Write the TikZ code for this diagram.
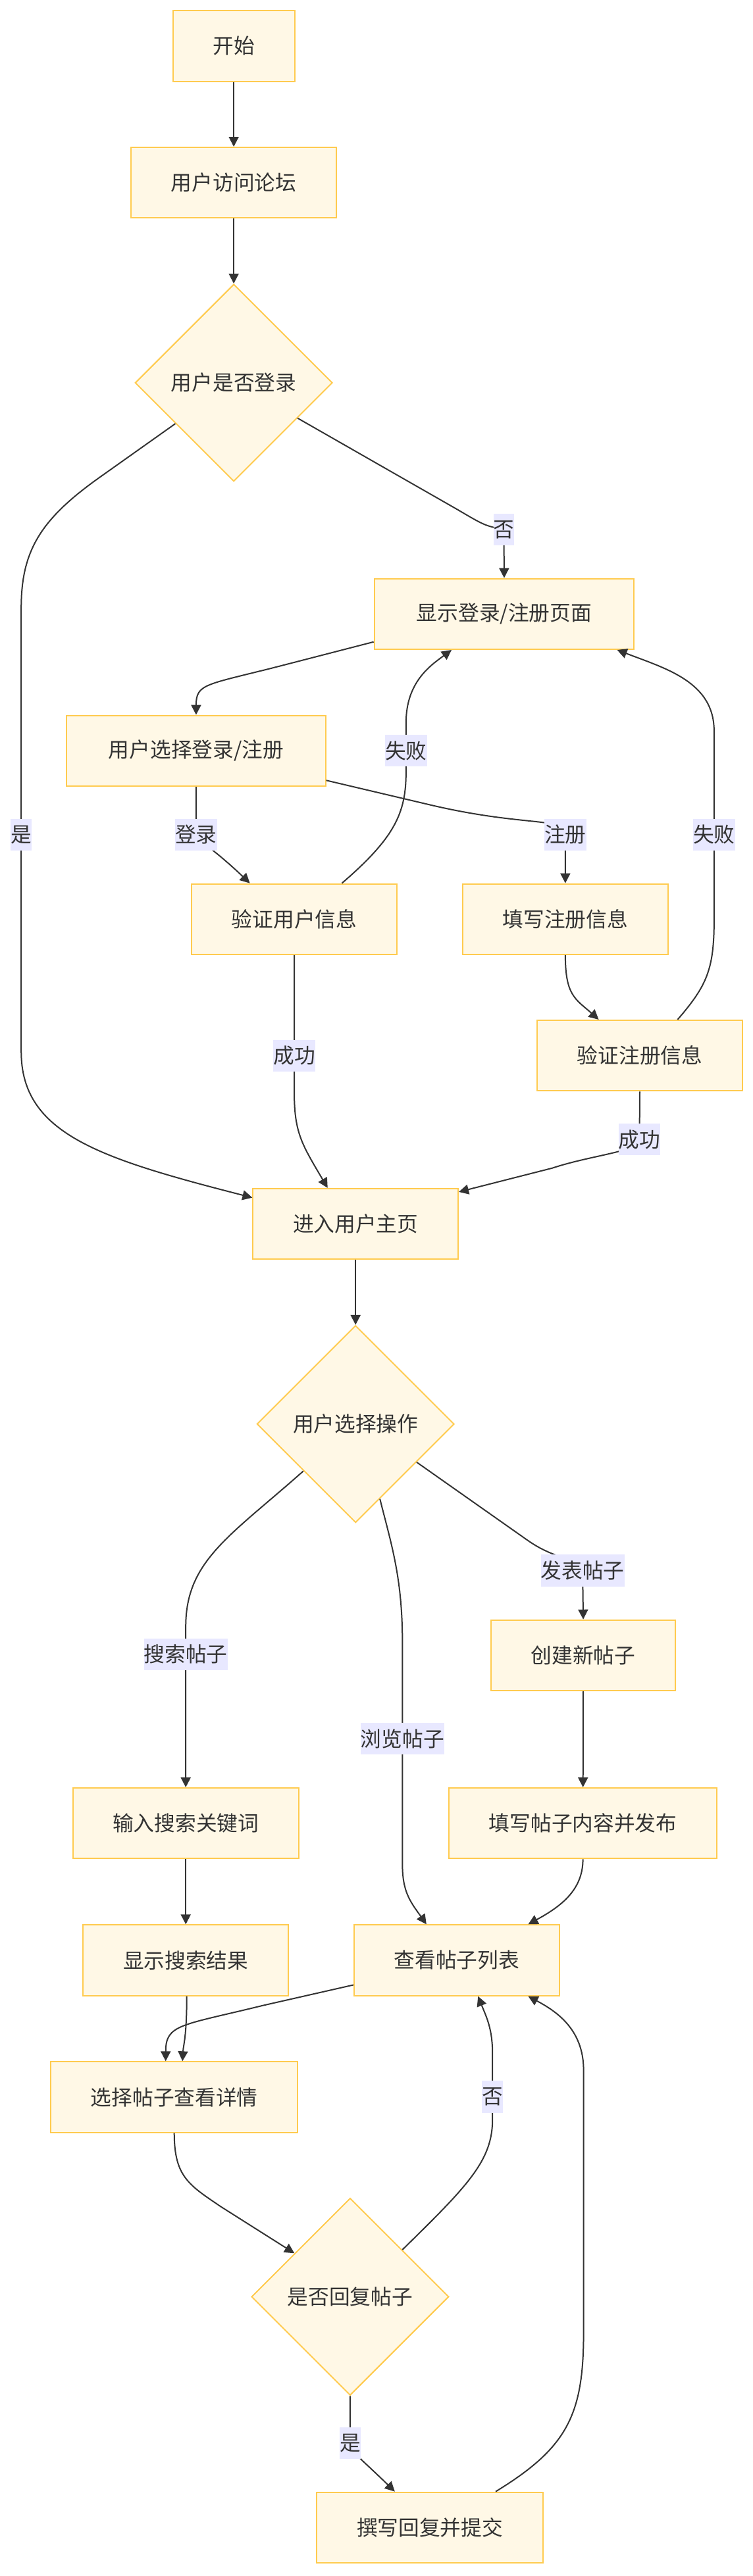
\documentclass[tikz,border=0pt]{standalone}
\usepackage{fontspec}
\setmainfont{Noto Sans CJK SC}
\usetikzlibrary{positioning, arrows.meta, calc, shapes.geometric}
\definecolor{boxfill}{HTML}{FFF8E6}
\definecolor{boxline}{HTML}{FFCB4F}
\definecolor{lblfill}{HTML}{E8E8FF}
\definecolor{ink}{HTML}{333333}

\begin{document}
\begin{tikzpicture}[x=1pt, y=-1pt,
	proc/.style={rectangle, draw=boxline, fill=boxfill, line width=0.8pt,
		minimum height=43pt, inner xsep=24.3pt, text=ink,
		font=\fontsize{12.7}{15}\selectfont},
	decision/.style={shape=diamond, draw=boxline, fill=boxfill, line width=0.8pt,
		minimum width=120pt, minimum height=120pt, inner sep=0pt, text=ink,
		font=\fontsize{12.7}{15}\selectfont},
	flow/.style={draw=ink, line width=0.8pt, -{Triangle[length=6pt,width=6pt]}},
	lbl/.style={fill=lblfill, inner sep=0pt, minimum height=19.3pt, text=ink,
		font=\fontsize{12.7}{15}\selectfont}]
		
		\fill[white] (0,0) rectangle (458,1568);
		\useasboundingbox (0,0) rectangle (458,1568);
		
		% Login part
		\node[proc] (start) at (142.2,28) {开始};
		\node[proc] (visit) at ($(start) + (0,83.2)$) {用户访问论坛};
		\node[decision] (login) at ($(start) + (0,205)$) {用户是否登录};
		\node[proc, minimum width=158pt] (show) at ($(start) + (164.5,345.7)$) {显示登录/注册页面};
		\node[proc, minimum width=157.5pt] (choose) at ($(start) + (-22.9,429)$) {用户选择登录/注册};
		\node[proc] (vuser) at ($(start) + (36.8,531.5)$) {验证用户信息};
		\node[proc] (fillreg) at ($(start) + (201.7,531.5)$) {填写注册信息};
		\node[proc] (vreg) at ($(start) + (247,614.5)$) {验证注册信息};
		
		% Forum part
		\node[proc] (home) at ($(start) + (74.1,717)$) {进入用户主页};
		\node[decision] (action) at ($(start) + (74.1,838.8)$) {用户选择操作};
		\node[proc] (create) at ($(start) + (212.6,979.6)$) {创建新帖子};
		\node[proc] (sinput) at ($(start) + (-29.2,1081.8)$) {输入搜索关键词};
		\node[proc] (fillpost) at ($(start) + (212.4,1081.8)$) {填写帖子内容并发布};
		\node[proc] (results) at ($(start) + (-29.2,1165.2)$) {显示搜索结果};
		\node[proc] (list) at ($(start) + (135.6,1165.2)$) {查看帖子列表};
		\node[proc] (detail) at ($(start) + (-36.2,1248.5)$) {选择帖子查看详情};
		\node[decision] (reply) at ($(start) + (70.8,1370)$) {是否回复帖子};
		\node[proc] (write) at ($(start) + (119.3,1510.5)$) {撰写回复并提交};
		
		% Connections
		\draw[flow] (start) -- (visit);
		\draw[flow] (visit) -- (login);
		\draw[flow] (login.-29) -- (278,310) .. controls (295,320) .. (306.5,322.3)
			node[lbl] {否} -- (show.north);
		\draw[flow] (login.-145) -- (60,291) .. controls (25,316) and (12.9,335) .. (12.9,370)
			-- (12.9,508) node[lbl] {是} -- (12.9,640)
			.. controls (12.9,690) and (60,705) .. ([yshift=16pt]home.west);
		\draw[flow] ([yshift=-17pt]show.west) -- (170,405.5)
			.. controls (125,417) and (119.3,416) .. (choose.north);
		\draw[flow] (choose.south) -- (119.3,508) node[lbl] {登录}
			.. controls (119.3,512) and (125,512) .. ([xshift=-27pt]vuser.north);
		\draw[flow] ([yshift=-18pt]choose.east) -- (262,490)
			.. controls (320,503.6) and (343.9,497) .. (343.9,508) node[lbl] {注册} -- (fillreg.north);
		\draw[flow] ([xshift=29pt]vuser.north) .. controls (240,510) and (247,495) .. (247,470)
			-- (247,457) node[lbl] {失败} -- (247,440)
			.. controls (247,415) and (262,405) .. ([xshift=-32pt]show.south);
		\draw[flow] (vuser.south) -- (179,642.5) node[lbl] {成功} -- (179,665)
			.. controls (179,690) and (184,697) .. ([xshift=-17pt]home.north);
		\draw[flow] (fillreg.south) .. controls (343.9,606) and (350,608) .. ([xshift=-25pt]vreg.north);
		\draw[flow] ([xshift=23pt]vreg.north) .. controls (430,600) and (434.4,590) .. (434.4,560)
			-- (434.4,508) node[lbl] {失败} -- (434.4,445)
			.. controls (434.4,415) and (405,407) .. ([xshift=68.7pt]show.south);
		\draw[flow] (vreg.south) -- (389,693.6) node[lbl] {成功}
			.. controls (389,701) and (360,703) .. (336,711) -- ([yshift=19.5pt]home.east);
		\draw[flow] (home) -- (action);
		\draw[flow] (action.-138) .. controls (140,935) and (113,950) .. (113,990)
			-- (113,1007) node[lbl] {搜索帖子} -- (sinput.north);
		\draw[flow] (action.-72) .. controls (238,940) and (244.8,960) .. (244.8,1000)
			-- (244.8,1058.4) node[lbl] {浏览帖子} -- (244.8,1135)
			.. controls (244.8,1152) and (250,1158) .. ([xshift=-18.4pt]list.north);
		\draw[flow] (action.-32) -- (321,937.6) .. controls (340,951) and (354.4,948) .. (354.4,956)
			node[lbl] {发表帖子} -- (create.north);
		\draw[flow] (create) -- (fillpost);
		\draw[flow] (sinput) -- (results);
		\draw[flow] (fillpost.south) .. controls (354.6,1150) and (342,1160) .. ([xshift=43.5pt]list.north);
		\draw[flow] ([xshift=0.6pt]results.south) .. controls (113.6,1240) and (111.5,1245) .. ([xshift=5pt]detail.north);
		\draw[flow] ([yshift=-15pt]list.west) -- (160,1220.7)
			.. controls (110,1233) and (100.8,1232) .. ([xshift=-5.2pt]detail.north);
		\draw[flow] (detail.south) .. controls (106,1325) and (115,1330) .. (134.4,1343.2) -- (reply.142);
		\draw[flow] (reply.42) .. controls (285,1330) and (299.6,1315) .. (299.6,1290)
			-- (299.6,1276.3) node[lbl] {否} -- (299.6,1250)
			.. controls (299.6,1235) and (296,1228) .. ([xshift=13pt]list.south);
		\draw[flow] (reply.south) -- (213,1487.2) node[lbl] {是}
			.. controls (213,1492) and (218,1495) .. ([xshift=-21.3pt]write.north);
		\draw[flow] ([xshift=40pt]write.north) .. controls (345,1490) and (355,1470) .. (355,1420)
			-- (355,1260) .. controls (355,1235) and (338,1224) .. ([xshift=43.5pt]list.south);
	\end{tikzpicture}
\end{document}
